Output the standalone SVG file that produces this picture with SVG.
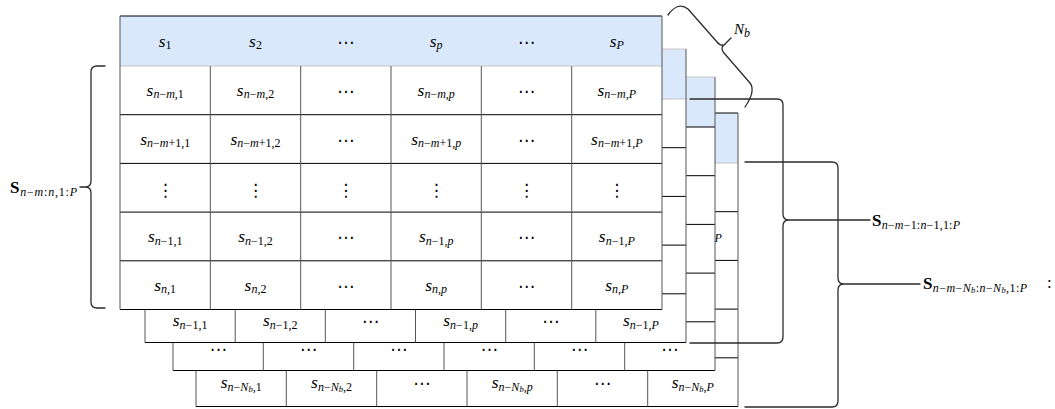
<svg xmlns="http://www.w3.org/2000/svg" width="1055" height="409" viewBox="0 0 1055 409">
<style>
.t{font-family:"Liberation Serif","DejaVu Serif",serif;font-size:17.5px;fill:#000}
.c{text-anchor:middle}
.i{font-style:italic}
.s{font-size:12px}
.ss{font-size:8.5px}
.b{font-weight:bold;font-size:17px}
.dots{font-family:"DejaVu Sans",sans-serif;font-size:17px;text-anchor:middle;fill:#000}
.hd{fill:#dae8fc;stroke:none}
.bd{fill:#fff;stroke:none}
.hl{stroke:#000;stroke-width:1;fill:none}
.vl{stroke:#555;stroke-width:1;fill:none}
.hb{stroke:#c4c4c4;stroke-width:1;fill:none}
.br{fill:none;stroke:#2b2b2b;stroke-width:1.3;stroke-linecap:round;stroke-linejoin:round}
</style>

<g id="layer-3">
<rect class="hd" x="196" y="113" width="542" height="50"/>
<rect class="bd" x="196" y="163" width="542" height="243.5"/>
<path class="hb" d="M196,163H738"/>
<path class="hl" d="M196,113H738M196,211.7H738M196,260.4H738M196,309.1H738M196,357.8H738M196,406.5H738"/>
<path class="vl" d="M196,113V406.5M738,113V406.5M286.3,163V406.5M376.7,163V406.5M467,163V406.5M557.3,163V406.5M647.7,163V406.5"/>
<text class="t i s" x="714.5" y="241.5">P</text>
<text class="t c" x="241.2" y="388"><tspan class="i">s</tspan><tspan class="s" dy="2.5"><tspan class="i">n</tspan>−<tspan class="i">N</tspan><tspan class="ss i" dy="1.5">b</tspan><tspan dy="-1.5">,1</tspan></tspan></text>
<text class="t c" x="331.5" y="388"><tspan class="i">s</tspan><tspan class="s" dy="2.5"><tspan class="i">n</tspan>−<tspan class="i">N</tspan><tspan class="ss i" dy="1.5">b</tspan><tspan dy="-1.5">,2</tspan></tspan></text>
<text class="dots" x="421.8" y="389">⋯</text>
<text class="t c" x="512.2" y="388"><tspan class="i">s</tspan><tspan class="s" dy="2.5"><tspan class="i">n</tspan>−<tspan class="i">N</tspan><tspan class="ss i" dy="1.5">b</tspan><tspan dy="-1.5">,</tspan><tspan class="i">p</tspan></tspan></text>
<text class="dots" x="602.5" y="389">⋯</text>
<text class="t c" x="692.8" y="388"><tspan class="i">s</tspan><tspan class="s" dy="2.5"><tspan class="i">n</tspan>−<tspan class="i">N</tspan><tspan class="ss i" dy="1.5">b</tspan><tspan dy="-1.5">,</tspan><tspan class="i">P</tspan></tspan></text>
</g>

<g id="layer-2">
<rect class="hd" x="173" y="77" width="542" height="50"/>
<rect class="bd" x="173" y="127" width="542" height="243.5"/>
<path class="hb" d="M173,77H715"/>
<path class="hl" d="M173,127H715M173,175.7H715M173,224.4H715M173,273.1H715M173,321.8H715M173,370.5H715"/>
<path class="vl" d="M173,77V370.5M715,77V370.5M263.3,127V370.5M353.7,127V370.5M444,127V370.5M534.3,127V370.5M624.7,127V370.5"/>
<text class="dots" x="218.2" y="355">⋯</text>
<text class="dots" x="308.5" y="355">⋯</text>
<text class="dots" x="398.8" y="355">⋯</text>
<text class="dots" x="489.2" y="355">⋯</text>
<text class="dots" x="579.5" y="355">⋯</text>
<text class="dots" x="669.8" y="355">⋯</text>
</g>

<g id="layer-1">
<rect class="hd" x="145" y="49" width="541" height="50"/>
<rect class="bd" x="145" y="99" width="541" height="243.5"/>
<path class="hb" d="M145,49H686M145,99H686"/>
<path class="hl" d="M145,147.7H686M145,196.4H686M145,245.1H686M145,293.8H686M145,342.5H686"/>
<path class="vl" d="M145,49V342.5M686,49V342.5M235.2,99V342.5M325.3,99V342.5M415.5,99V342.5M505.7,99V342.5M595.8,99V342.5"/>
<text class="t c" x="190.1" y="326"><tspan class="i">s</tspan><tspan class="s" dy="2.5"><tspan class="i">n</tspan>−1,1</tspan></text>
<text class="t c" x="280.3" y="326"><tspan class="i">s</tspan><tspan class="s" dy="2.5"><tspan class="i">n</tspan>−1,2</tspan></text>
<text class="dots" x="370.4" y="327">⋯</text>
<text class="t c" x="460.6" y="326"><tspan class="i">s</tspan><tspan class="s" dy="2.5"><tspan class="i">n</tspan>−1,<tspan class="i">p</tspan></tspan></text>
<text class="dots" x="550.8" y="327">⋯</text>
<text class="t c" x="640.9" y="326"><tspan class="i">s</tspan><tspan class="s" dy="2.5"><tspan class="i">n</tspan>−1,<tspan class="i">P</tspan></tspan></text>
</g>

<g id="layer-0">
<rect class="hd" x="120" y="16" width="542" height="50"/>
<rect class="bd" x="120" y="66" width="542" height="243.5"/>
<path class="hb" d="M120,66H662"/>
<path class="hl" d="M120,16H662M120,114.7H662M120,163.4H662M120,212.1H662M120,260.8H662M120,309.5H662"/>
<path class="vl" d="M120,16V309.5M662,16V309.5M210.3,66V309.5M300.7,66V309.5M391,66V309.5M481.3,66V309.5M571.7,66V309.5"/>
<text class="t c" x="165.2" y="46.5"><tspan class="i">s</tspan><tspan class="s" dy="2.5">1</tspan></text>
<text class="t c" x="255.5" y="46.5"><tspan class="i">s</tspan><tspan class="s" dy="2.5">2</tspan></text>
<text class="dots" x="345.8" y="47.5">⋯</text>
<text class="t c" x="436.2" y="46.5"><tspan class="i">s</tspan><tspan class="s i" dy="2.5">p</tspan></text>
<text class="dots" x="526.5" y="47.5">⋯</text>
<text class="t c" x="616.8" y="46.5"><tspan class="i">s</tspan><tspan class="s i" dy="2.5">P</tspan></text>

<text class="t c" x="165.2" y="95.8"><tspan class="i">s</tspan><tspan class="s" dy="2.5"><tspan class="i">n</tspan>−<tspan class="i">m</tspan>,1</tspan></text>
<text class="t c" x="255.5" y="95.8"><tspan class="i">s</tspan><tspan class="s" dy="2.5"><tspan class="i">n</tspan>−<tspan class="i">m</tspan>,2</tspan></text>
<text class="dots" x="345.8" y="96.8">⋯</text>
<text class="t c" x="436.2" y="95.8"><tspan class="i">s</tspan><tspan class="s" dy="2.5"><tspan class="i">n</tspan>−<tspan class="i">m</tspan>,<tspan class="i">p</tspan></tspan></text>
<text class="dots" x="526.5" y="96.8">⋯</text>
<text class="t c" x="616.8" y="95.8"><tspan class="i">s</tspan><tspan class="s" dy="2.5"><tspan class="i">n</tspan>−<tspan class="i">m</tspan>,<tspan class="i">P</tspan></tspan></text>

<text class="t c" x="165.2" y="144.5"><tspan class="i">s</tspan><tspan class="s" dy="2.5"><tspan class="i">n</tspan>−<tspan class="i">m</tspan>+1,1</tspan></text>
<text class="t c" x="255.5" y="144.5"><tspan class="i">s</tspan><tspan class="s" dy="2.5"><tspan class="i">n</tspan>−<tspan class="i">m</tspan>+1,2</tspan></text>
<text class="dots" x="345.8" y="145.5">⋯</text>
<text class="t c" x="436.2" y="144.5"><tspan class="i">s</tspan><tspan class="s" dy="2.5"><tspan class="i">n</tspan>−<tspan class="i">m</tspan>+1,<tspan class="i">p</tspan></tspan></text>
<text class="dots" x="526.5" y="145.5">⋯</text>
<text class="t c" x="616.8" y="144.5"><tspan class="i">s</tspan><tspan class="s" dy="2.5"><tspan class="i">n</tspan>−<tspan class="i">m</tspan>+1,<tspan class="i">P</tspan></tspan></text>

<text class="dots" x="165.2" y="196">⋮</text>
<text class="dots" x="255.5" y="196">⋮</text>
<text class="dots" x="345.8" y="196">⋮</text>
<text class="dots" x="436.2" y="196">⋮</text>
<text class="dots" x="526.5" y="196">⋮</text>
<text class="dots" x="616.8" y="196">⋮</text>

<text class="t c" x="165.2" y="242"><tspan class="i">s</tspan><tspan class="s" dy="2.5"><tspan class="i">n</tspan>−1,1</tspan></text>
<text class="t c" x="255.5" y="242"><tspan class="i">s</tspan><tspan class="s" dy="2.5"><tspan class="i">n</tspan>−1,2</tspan></text>
<text class="dots" x="345.8" y="243">⋯</text>
<text class="t c" x="436.2" y="242"><tspan class="i">s</tspan><tspan class="s" dy="2.5"><tspan class="i">n</tspan>−1,<tspan class="i">p</tspan></tspan></text>
<text class="dots" x="526.5" y="243">⋯</text>
<text class="t c" x="616.8" y="242"><tspan class="i">s</tspan><tspan class="s" dy="2.5"><tspan class="i">n</tspan>−1,<tspan class="i">P</tspan></tspan></text>

<text class="t c" x="165.2" y="290.7"><tspan class="i">s</tspan><tspan class="s" dy="2.5"><tspan class="i">n</tspan>,1</tspan></text>
<text class="t c" x="255.5" y="290.7"><tspan class="i">s</tspan><tspan class="s" dy="2.5"><tspan class="i">n</tspan>,2</tspan></text>
<text class="dots" x="345.8" y="291.7">⋯</text>
<text class="t c" x="436.2" y="290.7"><tspan class="i">s</tspan><tspan class="s" dy="2.5"><tspan class="i">n</tspan>,<tspan class="i">p</tspan></tspan></text>
<text class="dots" x="526.5" y="291.7">⋯</text>
<text class="t c" x="616.8" y="290.7"><tspan class="i">s</tspan><tspan class="s" dy="2.5"><tspan class="i">n</tspan>,<tspan class="i">P</tspan></tspan></text>
</g>

<g id="connectors">
<path class="br" d="M105,66L97,66Q91,66 91,72L91,181Q91,187 85,187L80,187M85,187Q91,187 91,193L91,302Q91,308 97,308L105,308"/>
<path class="br" d="M690,99L777,99Q783,99 783,105L783,214Q783,220 789,220L870,220M789,220Q783,220 783,226L783,337Q783,343 777,343L690,343"/>
<path class="br" d="M745,162L832,162Q838,162 838,168L838,278Q838,284 844,284L920,284M844,284Q838,284 838,290L838,401Q838,407 832,407L745,407"/>
<path class="br" d="M668,15Q678,1 688,9L717,42Q720,46 724,45L731,38M724,45Q720,48 724,53L750,83Q756,91 745,107"/>
</g>

<g id="labels">
<text class="t" x="10" y="193" textLength="67" lengthAdjust="spacing"><tspan class="b">S</tspan><tspan class="s" dy="2.5"><tspan class="i">n</tspan>−<tspan class="i">m</tspan>:<tspan class="i">n</tspan>,1:<tspan class="i">P</tspan></tspan></text>
<text class="t" x="872" y="226" textLength="88" lengthAdjust="spacing"><tspan class="b">S</tspan><tspan class="s" dy="2.5"><tspan class="i">n</tspan>−<tspan class="i">m</tspan>−1:<tspan class="i">n</tspan>−1,1:<tspan class="i">P</tspan></tspan></text>
<text class="t" x="923" y="289" textLength="104" lengthAdjust="spacing"><tspan class="b">S</tspan><tspan class="s" dy="2.5"><tspan class="i">n</tspan>−<tspan class="i">m</tspan>−<tspan class="i">N</tspan><tspan class="ss i" dy="1.5">b</tspan><tspan dy="-1.5">:</tspan><tspan class="i">n</tspan>−<tspan class="i">N</tspan><tspan class="ss i" dy="1.5">b</tspan><tspan dy="-1.5">,1:</tspan><tspan class="i">P</tspan></tspan></text>
<text class="t" x="1047" y="288" style="font-size:17px">:</text>
<text class="t i" x="734" y="34" style="font-size:15px">N<tspan class="s" dy="2.5">b</tspan></text>
</g>
</svg>
